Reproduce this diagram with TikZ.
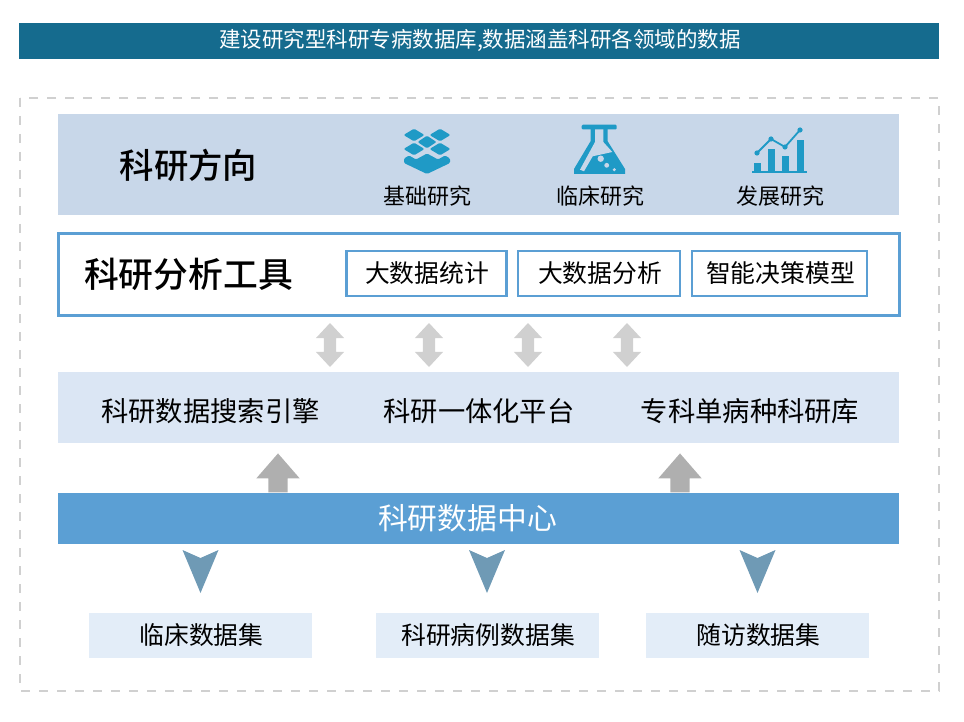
\documentclass[tikz,border=0pt]{standalone}
\usepackage{fontspec}
\setmainfont{Noto Sans CJK SC}
\newfontfamily\medfont{Noto Sans CJK SC Medium}
\usetikzlibrary{shapes.arrows,calc}
\definecolor{headblue}{HTML}{156B8E}
\definecolor{dirband}{HTML}{C8D7E9}
\definecolor{toolblue}{HTML}{5B9FD4}
\definecolor{platband}{HTML}{DBE6F4}
\definecolor{setband}{HTML}{E3EDF8}
\definecolor{iconblue}{HTML}{1F9AC6}
\definecolor{linkgray}{HTML}{D0D0D0}
\definecolor{upgray}{HTML}{AFAFAF}
\definecolor{dartblue}{HTML}{6F9AB5}
\tikzset{
	box/.style={inner sep=0pt,outer sep=0pt,minimum width=#1,align=center},
	txt/.style={inner sep=0pt,outer sep=0pt,text=black},
	toolbox/.style={box=#1,draw=toolblue,line width=2.4pt,fill=white,minimum height=45pt},
	setbox/.style={box=223pt,fill=setband,minimum height=45pt},
	midtxt/.style={txt,font=\fontsize{24.8}{28}\selectfont},
	updown/.style={double arrow,fill=linkgray,inner sep=0pt,outer sep=0pt,minimum height=44pt,double arrow head extend=8pt,double arrow tip angle=86,shape border rotate=90},
	uparrow/.style={single arrow,fill=upgray,inner sep=0pt,outer sep=0pt,minimum height=39pt,single arrow head extend=12pt,single arrow tip angle=82,shape border rotate=90},
	iconfill/.style={fill=iconblue,rounded corners=1.2pt}
}
\begin{document}
\begin{tikzpicture}[x=1pt,y=-1pt]
	\useasboundingbox (0,0) rectangle (964,722);
	\node[box=920pt,fill=headblue,minimum height=36pt] (head) at (479,41) {};
	\node[txt,text=white,font=\fontsize{21.5}{24}\selectfont] (headtxt) at (480,40) {建设研究型科研专病数据库,数据涵盖科研各领域的数据};
	\draw[linkgray,line width=2.5pt,dash pattern=on 9pt off 9pt] (20,98) rectangle (939,691);
	% direction band
	\node[box=841pt,fill=dirband,minimum height=101pt] (dir) at (478.5,164.5) {};
	\node[txt,font=\fontsize{34.4}{38}\selectfont\medfont] (dirtxt) at (188.5,165) {科研方向};
	\node[txt,font=\fontsize{22}{26}\selectfont] (basic) at (427.3,196) {基础研究};
	\node[txt,font=\fontsize{22}{26}\selectfont] (clinic) at (600.3,196) {临床研究};
	\node[txt,font=\fontsize{22}{26}\selectfont] (devel) at (780.8,196) {发展研究};
	% stack icon
	\foreach \x/\y/\w in {414/135/10.5,440/135/10.5,427/142/9.5,414/149/10.5,440/149/10.5}
		\fill[iconfill] (\x-\w,\y) -- (\x,\y-6.3) -- (\x+\w,\y) -- (\x,\y+6.3) -- cycle;
	\fill[iconfill] (404,158.5) -- (409,155.5) -- (416,159.5) -- (427,153.5) -- (438,159.5) -- (445,155.5) -- (450,158.5) -- (450,163) -- (427,174) -- (404,163) -- cycle;
	% flask icon
	\fill[iconfill] (581.7,124.7) rectangle (616.7,129.5);
	\fill[iconblue] (590.7,129) -- (607.5,129) -- (607.5,141) -- (625,169) -- (625,174) -- (574,174) -- (574,169) -- (590.7,141) -- cycle;
	\fill[dirband] (595,129.5) -- (603.3,129.5) -- (603.3,142) -- (612.3,152) -- (592.7,156.3) -- (584,171.3) -- (580,169.7) -- (595,142) -- cycle;
	\fill[dirband] (600.7,158.7) circle (3.2pt) (606.7,165.3) circle (2.4pt) (614.3,169.7) circle (1.7pt);
	% chart icon
	\fill[iconblue] (752,171.5) rectangle (807,173.5);
	\foreach \x/\y in {754/163,768/149,782/156,797/140}
		\fill[iconblue] (\x,\y) rectangle (\x+7,172);
	\draw[iconblue,line width=1.8pt] (757,153) -- (771,139) -- (785,147) -- (800,130);
	\foreach \x/\y in {757/153,771/139,785/147,800/130}
		\fill[iconblue] (\x,\y) circle (2.6pt);
	% tools
	\node[box=841pt,draw=toolblue,line width=3pt,fill=white,minimum height=82pt] (tools) at (479,274.5) {};
	\node[txt,font=\fontsize{34.8}{38}\selectfont\medfont] (toolstxt) at (188.5,274.5) {科研分析工具};
	\node[toolbox=160pt] (stat) at (426.5,273.5) {};
	\node[toolbox=162pt] (anal) at (599,273.5) {};
	\node[toolbox=175pt] (model) at (779.5,273.5) {};
	\node[midtxt] (stattxt) at (427,273.5) {大数据统计};
	\node[midtxt] (analtxt) at (600,273.5) {大数据分析};
	\node[midtxt] (modeltxt) at (780.5,273.5) {智能决策模型};
	% links
	\foreach \x in {330,429,528,627}
		\node[updown] (link\x) at (\x,345) {\phantom{\rule{12pt}{12pt}}};
	% platform band
	\node[box=841pt,fill=platband,minimum height=71pt] (plat) at (478.5,407.5) {};
	\node[txt,font=\fontsize{27.3}{30}\selectfont] (search) at (210.5,411) {科研数据搜索引擎};
	\node[txt,font=\fontsize{27.3}{30}\selectfont] (unity) at (479,411) {科研一体化平台};
	\node[txt,font=\fontsize{27.3}{30}\selectfont] (lib) at (750,411) {专科单病种科研库};
	\node[uparrow] (upl) at (278,478.5) {\phantom{\rule{19pt}{19pt}}};
	\node[uparrow] (upr) at (680,478.5) {\phantom{\rule{19pt}{19pt}}};
	% data centre
	\node[box=841pt,fill=toolblue,minimum height=51pt] (centre) at (478.5,518.5) {};
	\node[txt,text=white,font=\fontsize{29.8}{33}\selectfont] (centretxt) at (467.5,518) {科研数据中心};
	% data sets
	\node[setbox] (clinicset) at (200.5,635.5) {};
	\node[setbox] (studyset) at (487,635.5) {};
	\node[setbox] (visitset) at (757.5,635.5) {};
	\node[midtxt] (clinictxt) at (201.5,635.5) {临床数据集};
	\node[midtxt] (studytxt) at (488,635.5) {科研病例数据集};
	\node[midtxt] (visittxt) at (758.5,635.5) {随访数据集};
	\foreach \s in {clinicset,studyset,visitset}
		\fill[dartblue,shift={(\s.north)}] (0,-20) -- (18,-63) -- (0,-55) -- (-18,-63) -- cycle;
\end{tikzpicture}
\end{document}
